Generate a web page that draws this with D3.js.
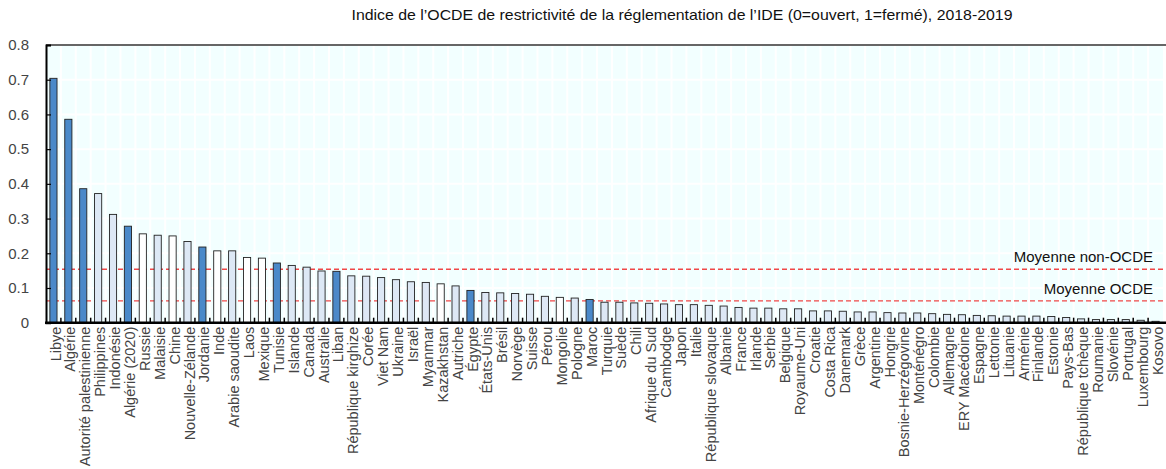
<!DOCTYPE html>
<html><head><meta charset="utf-8">
<script src="https://cdn.jsdelivr.net/npm/d3@7"></script>
<style>
body{margin:0;background:#fff;}
text{font-family:"Liberation Sans",Arial,sans-serif;}
</style>
</head><body>
<svg id="c" width="1166" height="469"></svg>
<script>
const title = "Indice de l\u2019OCDE de restrictivité de la réglementation de l\u2019IDE (0=ouvert, 1=fermé), 2018-2019";

const categories = ["Libye","Algérie","Autorité palestinienne","Philippines","Indonésie","Algérie (2020)","Russie","Malaisie","Chine","Nouvelle-Zélande",
"Jordanie","Inde","Arabie saoudite","Laos","Mexique","Tunisie","Islande","Canada","Australie","Liban",
"République kirghize","Corée","Viet Nam","Ukraine","Israël","Myanmar","Kazakhstan","Autriche","Égypte","États-Unis",
"Brésil","Norvège","Suisse","Pérou","Mongolie","Pologne","Maroc","Turquie","Suède","Chili",
"Afrique du Sud","Cambodge","Japon","Italie","République slovaque","Albanie","France","Irlande","Serbie","Belgique",
"Royaume-Uni","Croatie","Costa Rica","Danemark","Grèce","Argentine","Hongrie","Bosnie-Herzégovine","Monténégro","Colombie",
"Allemagne","ERY Macédoine","Espagne","Lettonie","Lituanie","Arménie","Finlande","Estonie","Pays-Bas","République tchèque",
"Roumanie","Slovénie","Portugal","Luxembourg","Kosovo"];

const values = [0.704,0.586,0.386,0.372,0.312,0.278,0.256,0.252,0.250,0.234,
0.218,0.207,0.207,0.188,0.186,0.172,0.165,0.160,0.149,0.148,
0.135,0.134,0.130,0.124,0.118,0.116,0.112,0.106,0.093,0.087,
0.086,0.084,0.082,0.076,0.073,0.071,0.067,0.059,0.059,0.057,
0.056,0.054,0.052,0.052,0.050,0.048,0.044,0.042,0.042,0.040,
0.040,0.034,0.034,0.033,0.031,0.031,0.029,0.028,0.028,0.026,
0.024,0.023,0.021,0.020,0.019,0.019,0.019,0.018,0.015,0.011,
0.009,0.009,0.009,0.007,0.004];

// d = dark blue, l = light blue, w = white
const groups = ["d","d","d","l","l","d","w","l","w","l",
"d","w","l","w","w","d","l","l","l","d",
"l","l","l","l","l","l","w","l","d","l",
"l","l","l","l","w","l","d","l","l","l",
"l","l","l","l","l","l","l","l","l","l",
"l","l","l","l","l","l","l","l","l","l",
"l","l","l","l","l","l","l","l","l","l",
"l","l","l","l","l"];

const yTicks = [0,0.1,0.2,0.3,0.4,0.5,0.6,0.7,0.8];
const refNames = ["Moyenne non-OCDE","Moyenne OCDE"];
const refValues = [0.154,0.063];

const fills = {d:"#4a89c9", l:"#dde8f5", w:"#ffffff"};

const svg = d3.select("#c");
const m = {left:46, right:1163, top:45, bottom:322.7};

const x = d3.scaleBand().domain(categories).range([m.left, m.right]).paddingInner(0.52).paddingOuter(0.26);
const y = d3.scaleLinear().domain([0,0.8]).range([m.bottom, m.top]);
const step = x.step();
const bandStart = i => m.left + i*step;

// background
svg.append("rect").attr("x",m.left).attr("y",m.top).attr("width",m.right-m.left).attr("height",m.bottom-m.top).attr("fill","#f2ffff");

// grid
const g = svg.append("g");
yTicks.forEach(t=>{
  g.append("line").attr("x1",m.left).attr("x2",m.right).attr("y1",y(t)).attr("y2",y(t)).attr("stroke","#fff").attr("stroke-width",2);
});
categories.forEach((c,i)=>{
  if(i===0) return;
  g.append("line").attr("x1",bandStart(i)).attr("x2",bandStart(i)).attr("y1",m.top).attr("y2",m.bottom).attr("stroke","#fff").attr("stroke-width",2);
});

// reference lines
refValues.forEach(v=>{
  svg.append("line").attr("x1",m.left).attr("x2",1166).attr("y1",y(v)).attr("y2",y(v))
    .attr("stroke","#f04848").attr("stroke-width",1.3).attr("stroke-dasharray","5,3");
});
refNames.forEach((n,i)=>{
  svg.append("text").attr("x",1153).attr("y",y(refValues[i])-7).attr("text-anchor","end")
    .attr("font-size",15).attr("fill","#111").text(n);
});

// bars
svg.append("g").selectAll("rect").data(categories).join("rect")
  .attr("x",c=>x(c)).attr("width",x.bandwidth())
  .attr("y",(c,i)=>y(values[i])).attr("height",(c,i)=>y(0)-y(values[i]))
  .attr("fill",(c,i)=>fills[groups[i]]).attr("stroke","#222").attr("stroke-width",0.9);

// bottom small ticks at band boundaries
categories.forEach((c,i)=>{
  if(i===0) return;
  svg.append("line").attr("x1",bandStart(i)).attr("x2",bandStart(i)).attr("y1",m.bottom).attr("y2",m.bottom-5).attr("stroke","#000").attr("stroke-width",1.5);
});

// top border
svg.append("line").attr("x1",m.left).attr("x2",1166).attr("y1",m.top).attr("y2",m.top).attr("stroke","#333").attr("stroke-width",1.5);

// y axis
const ya = svg.append("g").attr("transform",`translate(${m.left},0)`)
  .call(d3.axisRight(y).tickValues(yTicks).tickSize(5).tickFormat(d=>d===0?"0":d3.format(".1f")(d)));
ya.select(".domain").attr("stroke","#000").attr("stroke-width",2);
ya.selectAll(".tick line").attr("stroke","#000").attr("stroke-width",1.2);
ya.selectAll(".tick text").attr("x",-17).attr("text-anchor","end").attr("font-size",15).attr("fill","#444")
  .attr("font-family","'Liberation Sans',Arial,sans-serif");

// x axis line
svg.append("line").attr("x1",m.left-1).attr("x2",1166).attr("y1",m.bottom).attr("y2",m.bottom).attr("stroke","#000").attr("stroke-width",2.5);

// x labels
const xa = svg.append("g").attr("transform",`translate(0,${m.bottom})`)
  .call(d3.axisBottom(x).tickSize(0));
xa.select(".domain").remove();
xa.selectAll(".tick text")
  .attr("transform","rotate(-90)").attr("x",-4).attr("y",2).attr("dy","0.35em")
  .attr("text-anchor","end").attr("font-size",14.5).attr("fill","#444")
  .attr("font-family","'Liberation Sans',Arial,sans-serif");

// title
svg.append("text").attr("x",682).attr("y",20).attr("text-anchor","middle").attr("font-size",14.5)
  .attr("textLength",661).attr("lengthAdjust","spacingAndGlyphs").attr("fill","#111").text(title);
</script>
</body></html>
